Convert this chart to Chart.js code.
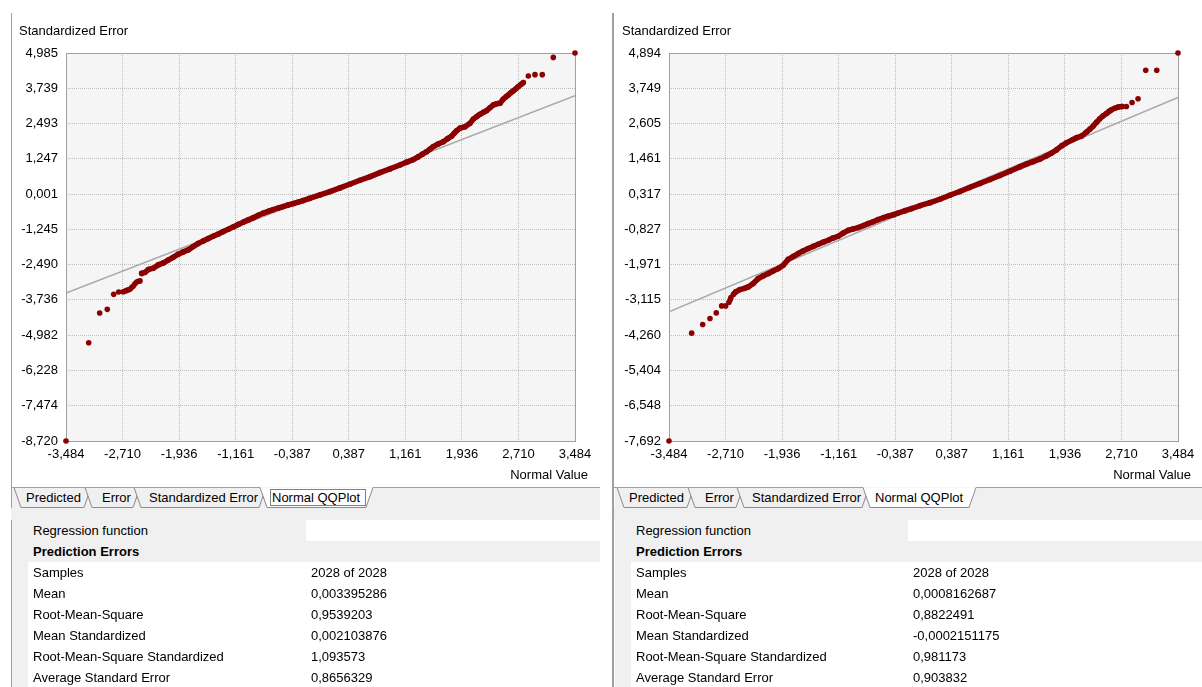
<!DOCTYPE html>
<html>
<head>
<meta charset="utf-8">
<title>Normal QQPlot</title>
<script src="https://cdn.jsdelivr.net/npm/chart.js@4.4.1/dist/chart.umd.min.js"></script>
<style>
  html, body { margin: 0; padding: 0; background: #ffffff; }
  body { position: relative; width: 1202px; height: 687px; overflow: hidden;
         font-family: "Liberation Sans", Arial, sans-serif; font-size: 13px; color: #000; }
  .panel { position: absolute; top: 0; height: 687px; }
  .frame { position: absolute; top: 13px; height: 674px; background: #a0a0a0; }
  .ytitle { position: absolute; left: 19px; top: 23px; line-height: 16px; white-space: nowrap; }
  .xtitle { position: absolute; top: 467px; line-height: 16px; white-space: nowrap; }
  .panel canvas { position: absolute; left: 0; top: 0; }
  .tabs { position: absolute; left: 0; top: 485px; }
  .band { position: absolute; top: 508px; height: 12px; background: #f0f0f0; }
  .margin { position: absolute; top: 520px; width: 16px; height: 167px; background: #f0f0f0; }
  .grid { position: absolute; top: 520px; }
  .row { position: relative; height: 21px; line-height: 21px; white-space: nowrap; }
  .row span { position: absolute; top: 0; }
  .row.head { background: #f0f0f0; font-weight: bold; }
  .row .labelcell { position: absolute; top: 0; left: 0; height: 21px; background: #f0f0f0; }
</style>
</head>
<body>
<script>
// Axis ticks (identical normal-quantile axis on both plots)
const xTicks = [-3.484, -2.710, -1.936, -1.161, -0.387, 0.387, 1.161, 1.936, 2.710, 3.484];
const leftYTicks = [4.985, 3.739, 2.493, 1.247, 0.001, -1.245, -2.490, -3.736, -4.982, -6.228, -7.474, -8.720];
const rightYTicks = [4.894, 3.749, 2.605, 1.461, 0.317, -0.827, -1.971, -3.115, -4.260, -5.404, -6.548, -7.692];

// Reference lines [normal value, standardized error]
const leftReference = [[-3.484, -3.49], [3.484, 3.48]];
const rightReference = [[-3.484, -3.50], [3.484, 3.45]];

// Dense run of sorted standardized errors, left model
const leftBand = [
  [-2.448, -2.80], [-2.40, -2.76], [-2.357, -2.66], [-2.29, -2.62], [-2.22, -2.50], [-2.15, -2.43],
  [-2.084, -2.33], [-2.015, -2.23], [-1.947, -2.12], [-1.88, -2.04], [-1.81, -1.97], [-1.74, -1.85],
  [-1.673, -1.74], [-1.60, -1.65], [-1.536, -1.57], [-1.47, -1.49], [-1.399, -1.41], [-1.33, -1.32],
  [-1.262, -1.24], [-1.19, -1.15], [-1.125, -1.07], [-1.05, -0.98], [-0.988, -0.91], [-0.92, -0.83],
  [-0.852, -0.75], [-0.78, -0.67], [-0.715, -0.61], [-0.65, -0.55], [-0.578, -0.49], [-0.51, -0.44],
  [-0.441, -0.38], [-0.37, -0.33], [-0.304, -0.28], [-0.24, -0.23], [-0.15, -0.15], [-0.007, -0.03],
  [0.13, 0.09], [0.267, 0.22], [0.40, 0.35], [0.54, 0.49], [0.68, 0.62], [0.814, 0.76], [0.95, 0.89],
  [1.088, 1.03], [1.18, 1.13], [1.27, 1.22], [1.339, 1.32], [1.40, 1.42], [1.454, 1.50], [1.50, 1.59],
  [1.544, 1.68], [1.61, 1.77], [1.681, 1.85], [1.74, 1.96], [1.796, 2.05], [1.83, 2.15], [1.864, 2.24],
  [1.91, 2.33], [1.978, 2.38], [2.046, 2.50], [2.092, 2.65], [2.14, 2.74], [2.183, 2.82], [2.23, 2.89],
  [2.275, 2.95], [2.32, 3.05], [2.366, 3.15], [2.41, 3.19], [2.457, 3.21], [2.503, 3.36], [2.54, 3.44],
  [2.571, 3.50], [2.605, 3.58], [2.64, 3.65], [2.675, 3.72], [2.708, 3.80], [2.742, 3.87], [2.776, 3.94]
];
// Separate points in the tails, left model
const leftLoose = [
  [-3.484, -8.720], [-3.173, -5.25], [-3.023, -4.20], [-2.919, -4.07], [-2.831, -3.54], [-2.763, -3.457],
  [-2.70, -3.447], [-2.675, -3.42], [-2.653, -3.40], [-2.630, -3.38], [-2.608, -3.36], [-2.585, -3.30],
  [-2.563, -3.245], [-2.540, -3.17], [-2.516, -3.104], [-2.494, -3.075], [-2.471, -3.065],
  [2.845, 4.173], [2.936, 4.22], [3.036, 4.22], [3.187, 4.83], [3.484, 4.985]
];

// Dense run of sorted standardized errors, right model
const rightBand = [
  [-2.60, -2.93], [-2.571, -2.856], [-2.513, -2.78], [-2.45, -2.74], [-2.399, -2.694], [-2.331, -2.584],
  [-2.262, -2.42], [-2.19, -2.33], [-2.125, -2.26], [-2.06, -2.18], [-1.989, -2.10], [-1.92, -1.99],
  [-1.852, -1.80], [-1.78, -1.70], [-1.715, -1.61], [-1.65, -1.53], [-1.578, -1.45], [-1.51, -1.38],
  [-1.441, -1.31], [-1.37, -1.24], [-1.305, -1.18], [-1.24, -1.11], [-1.168, -1.05], [-1.10, -0.95],
  [-1.031, -0.86], [-0.96, -0.81], [-0.894, -0.77], [-0.82, -0.70], [-0.757, -0.64], [-0.69, -0.58],
  [-0.62, -0.51], [-0.55, -0.45], [-0.484, -0.40], [-0.41, -0.35], [-0.347, -0.296], [-0.25, -0.22],
  [-0.163, -0.154], [-0.05, -0.06], [0.09, 0.04], [0.224, 0.15], [0.36, 0.28], [0.497, 0.40],
  [0.63, 0.53], [0.771, 0.66], [0.91, 0.79], [1.045, 0.92], [1.182, 1.06], [1.318, 1.20], [1.41, 1.29],
  [1.50, 1.37], [1.60, 1.46], [1.684, 1.56], [1.75, 1.64], [1.82, 1.75], [1.89, 1.88], [1.957, 1.98],
  [2.048, 2.09], [2.10, 2.15], [2.163, 2.20], [2.231, 2.33], [2.28, 2.43], [2.321, 2.52], [2.37, 2.65],
  [2.413, 2.76], [2.46, 2.86], [2.504, 2.93], [2.54, 3.00], [2.573, 3.05], [2.62, 3.10], [2.663, 3.14],
  [2.72, 3.16]
];
// Separate points in the tails, right model
const rightLoose = [
  [-3.484, -7.692], [-3.174, -4.193], [-3.023, -3.913], [-2.923, -3.717], [-2.837, -3.536],
  [-2.763, -3.31], [-2.708, -3.31], [-2.663, -3.19], [-2.645, -3.10], [-2.636, -3.037],
  [2.778, 3.16], [2.855, 3.29], [2.937, 3.41], [3.042, 4.336], [3.193, 4.336], [3.484, 4.894]
];

// Property grid below the plots
const tabNames = ['Predicted', 'Error', 'Standardized Error', 'Normal QQPlot'];
const statNames = ['Samples', 'Mean', 'Root-Mean-Square', 'Mean Standardized',
                   'Root-Mean-Square Standardized', 'Average Standard Error'];
const leftStats = ['2028 of 2028', '0,003395286', '0,9539203', '0,002103876', '1,093573', '0,8656329'];
const rightStats = ['2028 of 2028', '0,0008162687', '0,8822491', '-0,0002151175', '0,981173', '0,903832'];

const RED = '#8b0000';
const FONT = '"Liberation Sans", Arial, sans-serif';
Chart.defaults.font.family = FONT;
Chart.defaults.font.size = 13;
Chart.defaults.color = '#000';

const fmt = v => Number(v).toFixed(3).replace('.', ',');
const toPoints = arr => arr.map(([x, y]) => ({ x, y }));

// Plot background and solid frame around the chart area
const plotFrame = {
  id: 'plotFrame',
  beforeDraw(chart) {
    const { ctx, chartArea: a } = chart;
    ctx.save();
    ctx.fillStyle = '#f5f5f5';
    ctx.fillRect(a.left, a.top, a.right - a.left, a.bottom - a.top);
    ctx.restore();
  },
  beforeDatasetsDraw(chart) {
    const { ctx, chartArea: a } = chart;
    ctx.save();
    ctx.strokeStyle = '#a0a0a0';
    ctx.lineWidth = 1;
    ctx.strokeRect(Math.round(a.left) + 0.5, Math.round(a.top) + 0.5,
                   Math.round(a.right - a.left), Math.round(a.bottom - a.top));
    ctx.restore();
  }
};

function buildChart(canvas, width, yTicks, reference, band, loose) {
  const height = 470;
  canvas.width = width; canvas.height = height;
  canvas.style.width = width + 'px'; canvas.style.height = height + 'px';
  return new Chart(canvas, {
    type: 'scatter',
    data: {
      datasets: [
        { data: toPoints(band), showLine: true, borderColor: RED, borderWidth: 5.5,
          borderJoinStyle: 'round', borderCapStyle: 'round',
          backgroundColor: RED, pointBorderColor: RED, pointBorderWidth: 0,
          pointRadius: 2.8, pointHoverRadius: 2.8, clip: false, order: 0 },
        { data: toPoints(loose), showLine: false, backgroundColor: RED, pointBorderColor: RED,
          pointBorderWidth: 0, pointRadius: 2.8, pointHoverRadius: 2.8, clip: false, order: 0 },
        { data: toPoints(reference), showLine: true, borderColor: '#a8a8a8', borderWidth: 1.5,
          pointRadius: 0, pointHoverRadius: 0, order: 1 }
      ]
    },
    options: {
      responsive: false, animation: false, devicePixelRatio: 1, events: [],
      layout: { padding: { top: 53, right: width - 575, bottom: 0, left: 0 } },
      plugins: { legend: { display: false }, tooltip: { enabled: false } },
      scales: {
        x: {
          type: 'linear', min: xTicks[0], max: xTicks[xTicks.length - 1],
          afterBuildTicks: s => { s.ticks = xTicks.map(v => ({ value: v })); },
          afterFit: s => { s.height = 29; },
          ticks: { callback: v => fmt(v), padding: 6, autoSkip: false, maxRotation: 0, color: '#000' },
          grid: { color: '#bdbdbd', lineWidth: 1, drawTicks: false },
          border: { display: false, dash: [1, 1] }
        },
        y: {
          type: 'linear', min: yTicks[yTicks.length - 1], max: yTicks[0],
          afterBuildTicks: s => { s.ticks = yTicks.map(v => ({ value: v })); },
          afterFit: s => { s.width = 66; },
          ticks: { callback: v => fmt(v), padding: 8, autoSkip: false, color: '#000' },
          grid: { color: '#bdbdbd', lineWidth: 1, drawTicks: false },
          border: { display: false, dash: [1, 1] }
        }
      }
    },
    plugins: [plotFrame]
  });
}

const SVGNS = 'http://www.w3.org/2000/svg';
function svgEl(name, attrs, parent) {
  const el = document.createElementNS(SVGNS, name);
  for (const k in attrs) el.setAttribute(k, attrs[k]);
  parent.appendChild(el);
  return el;
}

// Tab positions: top-left corner, top-right corner, text start
const tabGeometry = [[14, 91, 26], [85, 140, 102], [134, 266, 149], [260, 373, 272]];

function buildTabs(panel, width, focused) {
  const svg = svgEl('svg', { width, height: 24, class: 'tabs' }, panel);
  svgEl('rect', { x: 12, y: 2, width: width - 12, height: 22, fill: '#f0f0f0' }, svg);
  const active = tabNames.length - 1;
  const drawTab = i => {
    const [x0, x1, tx] = tabGeometry[i];
    const fill = i === active ? '#ffffff' : '#f0f0f0';
    svgEl('polygon', { points: `${x0},2.5 ${x1},2.5 ${x1 - 7},22.5 ${x0 + 7},22.5`, fill }, svg);
    svgEl('polyline', { points: `${x0},2.5 ${x0 + 7},22.5 ${x1 - 7},22.5 ${x1},2.5`,
                        fill: 'none', stroke: '#8a8a8a', 'stroke-width': 1 }, svg);
    const t = svgEl('text', { x: tx, y: 17, 'font-family': FONT, 'font-size': 13, fill: '#000' }, svg);
    t.textContent = tabNames[i];
  };
  for (let i = 0; i < active; i++) drawTab(i);
  const [ax0, ax1] = tabGeometry[active];
  svgEl('line', { x1: 11, y1: 2.5, x2: ax0, y2: 2.5, stroke: '#a0a0a0', 'stroke-width': 1 }, svg);
  svgEl('line', { x1: ax1, y1: 2.5, x2: width, y2: 2.5, stroke: '#a0a0a0', 'stroke-width': 1 }, svg);
  drawTab(active);
  if (focused) {
    svgEl('rect', { x: 270.5, y: 4.5, width: 95, height: 16, fill: 'none', stroke: '#000',
                    'stroke-width': 1, 'stroke-dasharray': '1,1' }, svg);
  }
}

function buildGrid(panel, width, stats, valueX) {
  const band = document.createElement('div');
  band.className = 'band'; band.style.left = '11px'; band.style.width = (width - 11) + 'px';
  panel.appendChild(band);
  const margin = document.createElement('div');
  margin.className = 'margin'; margin.style.left = '12px';
  panel.appendChild(margin);

  const grid = document.createElement('div');
  grid.className = 'grid'; grid.style.left = '28px'; grid.style.width = (width - 28) + 'px';
  const addRow = (label, value, cls) => {
    const row = document.createElement('div');
    row.className = 'row' + (cls ? ' ' + cls : '');
    if (cls === 'top') {
      const cell = document.createElement('div');
      cell.className = 'labelcell'; cell.style.width = (valueX - 33) + 'px';
      row.appendChild(cell);
    }
    const l = document.createElement('span'); l.style.left = '5px'; l.textContent = label; row.appendChild(l);
    if (value !== null) {
      const v = document.createElement('span'); v.style.left = (valueX - 28) + 'px'; v.textContent = value; row.appendChild(v);
    }
    grid.appendChild(row);
  };
  addRow('Regression function', '', 'top');
  addRow('Prediction Errors', null, 'head');
  statNames.forEach((n, i) => addRow(n, stats[i], ''));
  panel.appendChild(grid);
}

function buildPanel(cfg) {
  const panel = document.createElement('div');
  panel.className = 'panel';
  panel.style.left = cfg.left + 'px'; panel.style.width = cfg.width + 'px';
  document.body.appendChild(panel);

  const frame = document.createElement('div');
  frame.className = 'frame'; frame.style.left = cfg.frameX + 'px'; frame.style.width = cfg.frameW + 'px';
  panel.appendChild(frame);

  const canvas = document.createElement('canvas');
  panel.appendChild(canvas);

  const yt = document.createElement('div');
  yt.className = 'ytitle'; yt.textContent = 'Standardized Error';
  panel.appendChild(yt);
  const xt = document.createElement('div');
  xt.className = 'xtitle'; xt.textContent = 'Normal Value';
  xt.style.right = (cfg.width - 588) + 'px';
  panel.appendChild(xt);

  buildTabs(panel, cfg.width, cfg.focused);
  buildGrid(panel, cfg.width, cfg.stats, cfg.valueX);
  buildChart(canvas, cfg.width, cfg.yTicks, cfg.reference, cfg.band, cfg.loose);
}

buildPanel({ left: 0, width: 600, frameX: 11, frameW: 1, yTicks: leftYTicks, reference: leftReference,
             band: leftBand, loose: leftLoose, stats: leftStats, valueX: 311, focused: true });
buildPanel({ left: 603, width: 599, frameX: 9, frameW: 2, yTicks: rightYTicks, reference: rightReference,
             band: rightBand, loose: rightLoose, stats: rightStats, valueX: 310, focused: false });
</script>
</body>
</html>
